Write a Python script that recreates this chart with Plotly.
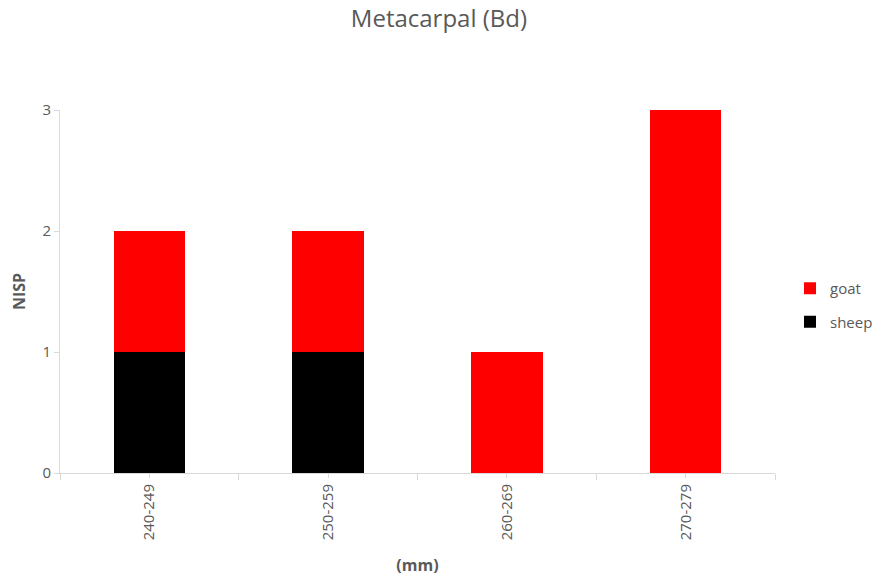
import plotly.graph_objects as go

categories = ["240-249", "250-259", "260-269", "270-279"]
sheep = [1, 1, 0, 0]
goat = [1, 1, 1, 3]

font_family = "Open Sans, Liberation Sans, sans-serif"
gray = "#595959"
axis_gray = "#D9D9D9"

W, H = 873, 569  # page body has an 8px offset

fig = go.Figure()
fig.add_trace(go.Bar(x=categories, y=sheep, name="sheep", legendgroup="sheep", legendrank=2,
                     marker=dict(color="#000000", line=dict(width=0)), width=0.4))
fig.add_trace(go.Bar(x=categories, y=goat, name="goat", legendgroup="goat", legendrank=1,
                     marker=dict(color="#FF0000", line=dict(width=0)), width=0.4))
# invisible helper trace to carry boundary tick marks on a second x axis
fig.add_trace(go.Scatter(x=categories, y=[0] * len(categories), xaxis="x2", yaxis="y",
                         mode="markers", marker=dict(opacity=0), showlegend=False,
                         hoverinfo="skip"))

fig.update_layout(
    barmode="stack",
    width=W, height=H,
    margin=dict(l=52, r=106, t=102, b=104, autoexpand=False),
    paper_bgcolor="white", plot_bgcolor="white",
    font=dict(family=font_family, color=gray, size=15),
    title=dict(text="Metacarpal (Bd)", x=0.53, xanchor="center", xref="paper",
               y=1 - 2 / H, yref="container", yanchor="top",
               font=dict(size=24, color=gray, family=font_family)),
    showlegend=True,
    legend=dict(xref="container", yref="container", x=782 / W, y=1 - 297 / H,
                xanchor="left", yanchor="middle", traceorder="grouped",
                font=dict(size=15, color=gray), itemwidth=30, tracegroupgap=11,
                bgcolor="rgba(0,0,0,0)"),
    xaxis=dict(
        automargin=False,
        categoryorder="array", categoryarray=categories,
        showline=True, linecolor=axis_gray, linewidth=1,
        ticks="outside", tickcolor=axis_gray, ticklen=4, tickson="labels",
        tickangle=-90, tickfont=dict(size=15, color=gray),
        title=dict(text="<b>(mm)</b>", font=dict(size=16, color=gray), standoff=20),
        showgrid=False,
    ),
    xaxis2=dict(
        overlaying="x", matches="x", side="bottom", anchor="y",
        categoryorder="array", categoryarray=categories,
        showline=False, showticklabels=False, showgrid=False,
        ticks="outside", tickcolor=axis_gray, ticklen=6, tickson="boundaries",
    ),
    yaxis=dict(
        automargin=False,
        range=[0, 3], dtick=1,
        showline=True, linecolor=axis_gray, linewidth=1,
        ticks="outside", tickcolor=axis_gray, ticklen=5,
        tickfont=dict(size=15, color=gray),
        title=dict(text="<b>NISP</b>", font=dict(size=16, color=gray), standoff=24),
        showgrid=False, zeroline=False,
    ),
)

fig.write_html("out.html")
